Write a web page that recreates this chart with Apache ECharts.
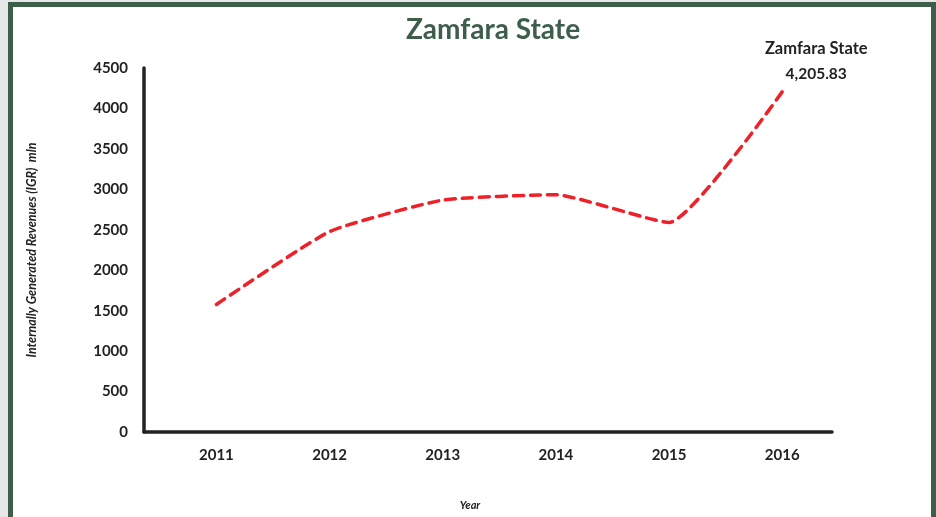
<!DOCTYPE html>
<html>
<head>
<meta charset="utf-8">
<title>Zamfara State</title>
<script src="https://cdn.jsdelivr.net/npm/echarts@6/dist/echarts.min.js"></script>
<style>
  html, body { margin: 0; padding: 0; background: #e6e7e8; }
  #wrap { position: relative; width: 936px; height: 517px; overflow: hidden; }
  #frame {
    position: absolute; left: 8px; top: 2px; width: 918px; height: 520px;
    background: #ffffff; border: 5px solid #3e5e4a; border-bottom: none;
    box-sizing: content-box;
  }
  #chart { position: absolute; left: 0; top: 0; width: 936px; height: 517px; }
</style>
</head>
<body>
<div id="wrap">
  <div id="frame"></div>
  <div id="chart"></div>
</div>
<script>
// Internally generated revenue of Zamfara State, million naira
const years = [2011, 2012, 2013, 2014, 2015, 2016];
const igr = [1577, 2478, 2867, 2933, 2589, 4205.83];
const yTicks = [0, 500, 1000, 1500, 2000, 2500, 3000, 3500, 4000, 4500];
const seriesName = 'Zamfara State';

const points = years.map((y, i) => {
  const item = { value: [y, igr[i]] };
  if (i === years.length - 1) {
    item.label = {
      show: true,
      position: 'top',
      distance: 6,
      offset: [34, 0],
      formatter: p => '{n|' + seriesName + '}\n{v|' +
        p.value[1].toLocaleString('en-US', { minimumFractionDigits: 2, maximumFractionDigits: 2 }) + '}',
      rich: {
        n: { fontFamily: 'Lato', fontWeight: 'bold', fontSize: 16.5, color: '#222222', lineHeight: 29, align: 'center' },
        v: { fontFamily: 'Lato', fontWeight: 'bold', fontSize: 15.5, color: '#222222', lineHeight: 22, align: 'center' }
      }
    };
  }
  return item;
});

const chart = echarts.init(document.getElementById('chart'), null, { renderer: 'canvas' });
chart.setOption({
  backgroundColor: 'transparent',
  animation: false,
  title: {
    text: seriesName,
    left: 488,
    textAlign: 'center',
    top: 11,
    textStyle: { fontFamily: 'Lato', fontWeight: 'bold', fontSize: 28, color: '#3e5e4a' }
  },
  grid: { left: 144, right: 104, top: 68, bottom: 85, containLabel: false },
  xAxis: {
    type: 'value',
    min: 2010.36,
    max: 2016.44,
    name: 'Year',
    nameLocation: 'middle',
    nameGap: 68,
    nameTextStyle: {
      fontFamily: 'Lato', fontStyle: 'italic', fontWeight: 'bold', fontSize: 11, color: '#222222',
      padding: [0, 36, 0, 0]
    },
    axisLine: { show: true, lineStyle: { color: '#222222', width: 3.5 } },
    axisTick: { show: false },
    splitLine: { show: false },
    axisLabel: {
      customValues: years,
      margin: 16,
      fontFamily: 'Lato', fontWeight: 'bold', fontSize: 15, color: '#222222',
      formatter: v => String(Math.round(v))
    }
  },
  yAxis: {
    type: 'value',
    min: yTicks[0],
    max: yTicks[yTicks.length - 1],
    interval: 500,
    name: 'Internally Generated Revenues (IGR)  mln',
    nameLocation: 'middle',
    nameGap: 106,
    nameRotate: 90,
    nameTextStyle: { fontFamily: 'Lato', fontStyle: 'italic', fontWeight: 'bold', fontSize: 12.5, color: '#222222' },
    axisLine: { show: true, lineStyle: { color: '#222222', width: 3.5 } },
    axisTick: { show: false },
    splitLine: { show: false },
    axisLabel: {
      margin: 16,
      fontFamily: 'Lato', fontWeight: 'bold', fontSize: 15, color: '#222222',
      formatter: v => String(v)
    }
  },
  series: [{
    name: seriesName,
    type: 'line',
    data: points,
    smooth: 0.15,
    symbol: 'circle',
    symbolSize: 2,
    showSymbol: true,
    showAllSymbol: true,
    itemStyle: { color: 'rgba(0,0,0,0)', borderWidth: 0 },
    lineStyle: { color: '#ee2129', width: 3.5, type: [10, 7], cap: 'round' }
  }]
});
</script>
</body>
</html>
